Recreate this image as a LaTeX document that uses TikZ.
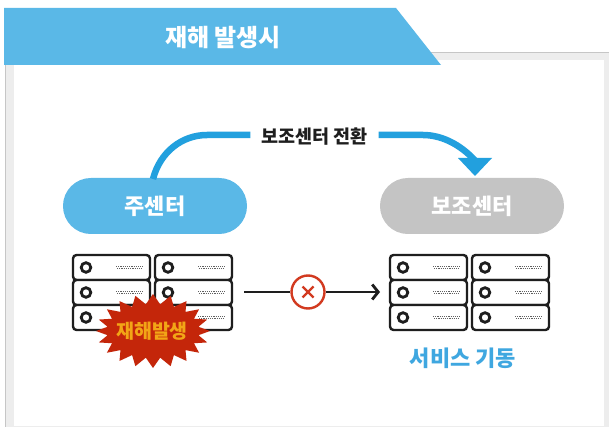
\documentclass[tikz,border=0pt]{standalone}
\usepackage{fontspec}
\setmainfont{Noto Sans CJK KR}
\newfontfamily\cjk{Noto Sans CJK KR}
\usetikzlibrary{arrows.meta}
\definecolor{skyb}{HTML}{5AB8E7}
\definecolor{arrowb}{HTML}{22A0DE}
\definecolor{textb}{HTML}{3FA7E0}
\definecolor{pillg}{HTML}{C4C4C4}
\definecolor{redx}{HTML}{D23A20}
\definecolor{burst}{HTML}{C4260A}
\definecolor{burstt}{HTML}{F2A516}
\definecolor{band}{HTML}{EDEDED}
\definecolor{edge}{HTML}{C6C6C6}
\definecolor{ink}{HTML}{1E1E1E}
\tikzset{
  x=1pt,y=-1pt,
  pill/.style={rounded corners=27.9pt,minimum width=184pt,minimum height=56pt,inner sep=0pt,text=white,font=\cjk\bfseries\fontsize{22}{24}\selectfont},
  unitbox/.style={draw=ink,line width=2.4pt,rounded corners=3.5pt,fill=white},
  lamp/.style={draw=ink,line width=2.8pt,fill=white},
  vent/.style={draw=ink!70,line width=1.5pt,dash pattern=on 1.2pt off 1pt},
  flow/.style={draw=arrowb,line width=6.5pt},
  wire/.style={draw=ink,line width=2.8pt},
  pics/serverunit/.style={code={
    \draw[unitbox] (0,0) rectangle (77,25);
    \draw[lamp] (13,12.5) circle (4.8);
    \draw[vent] (43,11.3) -- (70,11.3);
    \draw[vent] (44,13.7) -- (70,13.7);
  }},
  pics/serverrack/.style={code={
    \foreach \cx in {0,82}{\foreach \cy in {0,25,50}{
      \pic at (\cx,\cy) {serverunit};
    }}
  }}
}
\begin{document}
\begin{tikzpicture}
\useasboundingbox (0,0) rectangle (609,427);
\fill[white] (0,0) rectangle (609,427);
% frame
\fill[edge] (5,52) rectangle (609,427);
\fill[band] (6,53) rectangle (609,427);
\fill[white] (14,60) rectangle (604,426);
% title banner
\fill[skyb] (4,8) -- (396,8) -- (441,65) -- (4,65) -- cycle;
\node[text=white,font=\cjk\bfseries\fontsize{24}{26}\selectfont] (title) at (223,38) {재해 발생시};
% pills
\node[pill,fill=skyb] (main) at (155,206) {주센터};
\node[pill,fill=pillg] (backup) at (472,206) {보조센터};
% switch label and arrows
\node[font=\cjk\bfseries\fontsize{18.5}{20}\selectfont,text=ink,inner sep=0pt,minimum width=128pt,minimum height=20pt] (switch) at (314.5,137) {보조센터 전환};
\coordinate (lstart) at (153,179);
\coordinate (rend) at (478,164);
\draw[flow] (lstart) .. controls (160,152) and (182,135) .. (207,135) -- (switch.west |- 0,135);
\draw[flow] (switch.east |- 0,135) -- (423,135) .. controls (444,135) and (464,147) .. (rend);
\fill[arrowb] (458,158) -- (492,158) -- (475,176) -- cycle;
% servers
\pic at (73,255) {serverrack};
\pic at (390,255) {serverrack};
% burst
\fill[burst] plot[samples=41,domain=0:40] ({153+(mod(\x,2)==0 ? 57 : 46)*cos(\x*9)},{331+(mod(\x,2)==0 ? 37 : 27)*sin(\x*9)}) -- cycle;
\node[text=burstt,font=\cjk\bfseries\fontsize{19.5}{21}\selectfont] (disaster) at (152,331) {재해발생};
% wire
\coordinate (wstart) at (244,292);
\coordinate (wend) at (380,292);
\node[circle,draw=redx,line width=2.4pt,fill=white,minimum size=33pt,inner sep=0pt] (block) at (308,292) {};
\draw[wire] (wstart) -- (block);
\draw[wire,-{Straight Barb[length=6pt,width=15pt,line width=2.8pt]}] (block) -- (wend);
\draw[redx,line width=2.4pt] (302.5,286.5) -- (313.5,297.5) (313.5,286.5) -- (302.5,297.5);
% service label
\node[text=textb,font=\cjk\bfseries\fontsize{22}{24}\selectfont] (service) at (463,358) {서비스 기동};
\end{tikzpicture}
\end{document}
